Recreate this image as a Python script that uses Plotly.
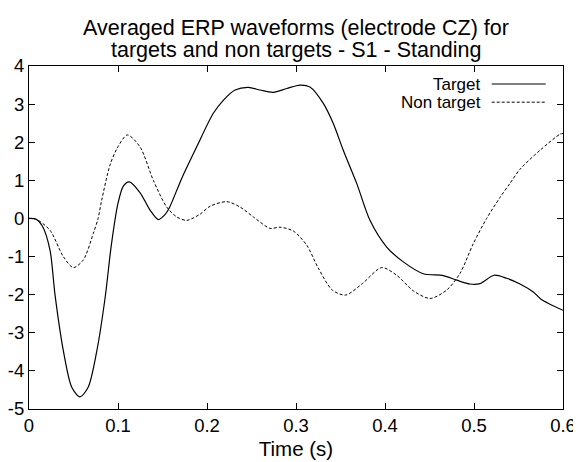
import plotly.graph_objects as go

# Target (solid) waveform samples
t_target = [0.0, 0.008, 0.015, 0.0236, 0.0292, 0.0385, 0.0479, 0.0573, 0.0666, 0.076,
            0.0854, 0.0925, 0.100, 0.106, 0.1127, 0.1247, 0.136, 0.1453, 0.1528, 0.1573,
            0.1723, 0.1884, 0.2071, 0.2183, 0.2315, 0.2464, 0.2596, 0.2745, 0.2896, 0.3045,
            0.3157, 0.3307, 0.3419, 0.3531, 0.3682, 0.3831, 0.4019, 0.4206, 0.443, 0.4655,
            0.4806, 0.4955, 0.5067, 0.5225, 0.5367, 0.5517, 0.5666, 0.5753, 0.5854, 0.600]
v_target = [0.0, -0.02, -0.2, -0.83, -2.0, -3.46, -4.42, -4.68, -4.42, -3.5,
            -2.1, -0.7, 0.4, 0.85, 0.96, 0.68, 0.22, -0.03, 0.1, 0.26,
            1.09, 1.88, 2.76, 3.10, 3.37, 3.44, 3.37, 3.31, 3.41, 3.50,
            3.45, 3.02, 2.49, 1.79, 0.92, -0.05, -0.75, -1.14, -1.45, -1.50,
            -1.62, -1.72, -1.71, -1.49, -1.57, -1.72, -1.93, -2.12, -2.25, -2.41]

# Non target (dashed) waveform samples
t_nontarget = [0.0, 0.008, 0.0236, 0.0385, 0.0498, 0.061, 0.0723, 0.0776, 0.0817, 0.091,
               0.0992, 0.1105, 0.1247, 0.1397, 0.1547, 0.166, 0.1772, 0.1921, 0.2034, 0.2221,
               0.2371, 0.2521, 0.2708, 0.282, 0.297, 0.312, 0.325, 0.3408, 0.3558, 0.3745,
               0.3963, 0.4131, 0.4319, 0.4506, 0.4693, 0.4843, 0.4992, 0.5142, 0.5292, 0.5404,
               0.5517, 0.5742, 0.5966, 0.600]
v_nontarget = [0.0, -0.02, -0.31, -1.0, -1.29, -1.09, -0.39, 0.0, 0.48, 1.4,
               1.85, 2.19, 1.88, 1.0, 0.30, 0.04, -0.05, 0.11, 0.32, 0.44,
               0.30, 0.04, -0.26, -0.23, -0.33, -0.7, -1.3, -1.88, -2.01, -1.71,
               -1.29, -1.49, -1.9, -2.10, -1.88, -1.44, -0.66, 0.0, 0.55, 0.92,
               1.29, 1.79, 2.21, 2.23]

x_ticks = [0, 0.1, 0.2, 0.3, 0.4, 0.5, 0.6]
x_tick_labels = ["0", "0.1", "0.2", "0.3", "0.4", "0.5", "0.6"]
y_ticks = [4, 3, 2, 1, 0, -1, -2, -3, -4, -5]
y_tick_labels = ["4", "3", "2", "1", "0", "-1", "-2", "-3", "-4", "-5"]
series_names = ["Target", "Non target"]
title_lines = ["Averaged ERP waveforms (electrode CZ) for",
               "targets and non targets - S1 - Standing"]

FONT = "Liberation Sans, Arial, Helvetica, sans-serif"

fig = go.Figure()
fig.add_trace(go.Scatter(x=t_target, y=v_target, mode="lines", name=series_names[0],
                         line=dict(color="black", width=1.2, shape="spline", smoothing=0.8)))
fig.add_trace(go.Scatter(x=t_nontarget, y=v_nontarget, mode="lines", name=series_names[1],
                         line=dict(color="black", width=1.0, dash="3px,2px", shape="spline", smoothing=0.8)))

# Legend drawn manually (text on the left, line sample on the right)
leg_y = [0.9475, 0.8945]
for name, yy, dash, w in zip(series_names, leg_y, ["solid", "3px,2px"], [1.2, 1.0]):
    fig.add_annotation(x=0.851, y=yy, xref="paper", yref="paper", text=name,
                       showarrow=False, xanchor="right", yanchor="middle",
                       font=dict(family=FONT, size=17, color="black"))
    fig.add_shape(type="line", xref="paper", yref="paper", x0=0.8665, x1=0.9676, y0=yy, y1=yy,
                  line=dict(color="black", width=w, dash=dash))

# Second title line (tighter line spacing than Plotly's <br>)
fig.add_annotation(x=0.5, y=1.0466, xref="paper", yref="paper", text=title_lines[1],
                   showarrow=False, xanchor="center", yanchor="middle",
                   font=dict(family=FONT, size=21.5, color="black"))

axis_common = dict(showline=True, linecolor="black", linewidth=1.2, mirror="ticks",
                   ticks="inside", ticklen=6, tickcolor="black", showgrid=False, zeroline=False,
                   automargin=False,
                   tickfont=dict(family=FONT, size=18.5, color="black"))

fig.update_layout(
    width=581, height=462,
    margin=dict(l=21, r=26, t=58, b=61),
    paper_bgcolor="white", plot_bgcolor="white",
    showlegend=False,
    title=dict(text=title_lines[0],
               x=0.5, xref="paper", xanchor="center", y=0.9589, yref="container", yanchor="middle",
               automargin=False,
               font=dict(family=FONT, size=21.5, color="black")),
    xaxis=dict(range=[0, 0.6], tickvals=x_ticks, ticktext=x_tick_labels,
               title=dict(text="Time (s)", font=dict(family=FONT, size=20.5, color="black"), standoff=6),
               **axis_common),
    yaxis=dict(range=[-5, 4], tickvals=y_ticks, ticktext=y_tick_labels, **axis_common),
)

fig.write_html("out.html")
